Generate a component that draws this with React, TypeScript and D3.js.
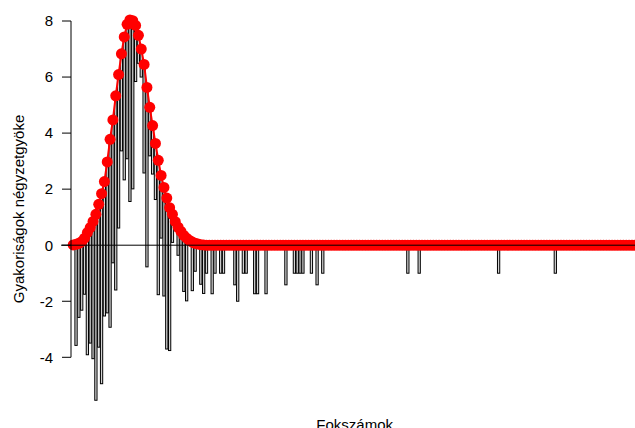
import React from "react";
import * as d3 from "d3";

// Degree range shown on the x axis (no x tick labels are drawn)
const maxDegree = 200;

// Square root of expected frequencies, degree 0..46 (beyond: 0)
const sqrtExpected = [
  0.01, 0.03, 0.07, 0.13, 0.25, 0.45, 0.63, 0.85, 1.1, 1.46,
  1.84, 2.27, 2.97, 3.78, 4.47, 5.33, 6.09, 6.83, 7.43, 7.88,
  8.04, 8.01, 7.84, 7.49, 7.0, 6.45, 5.63, 4.92, 4.27, 3.63,
  3.03, 2.49, 2.06, 1.68, 1.34, 1.1, 0.84, 0.64, 0.49, 0.35,
  0.25, 0.17, 0.11, 0.07, 0.04, 0.02, 0.01,
];

// Observed frequencies (degrees with non-zero counts)
const obsDegrees = [
  1, 2, 3, 4, 5, 6, 7, 8, 9, 10,
  11, 12, 13, 14, 15, 16, 17, 18, 19, 20,
  21, 22, 23, 24, 25, 26, 27, 28, 29, 30,
  31, 32, 33, 34, 35, 37, 38, 39, 40, 42,
  43, 45, 46, 47, 49, 50, 52, 53, 57, 58,
  60, 61, 64, 65, 68, 75, 78, 79, 80, 81,
  84, 86, 88, 118, 122, 150, 170,
];
const obsCounts = [
  13, 7, 6, 4, 19, 17, 24, 44, 26, 46,
  23, 29, 45, 26, 48, 30, 12, 26, 23, 42,
  36, 4, 1, 1, 15, 41, 3, 3, 4, 23,
  5, 15, 29, 26, 1, 1, 2, 4, 5, 3,
  1, 2, 3, 1, 3, 1, 1, 1, 2, 4,
  1, 1, 3, 3, 3, 2, 1, 1, 1, 1,
  1, 2, 1, 1, 1, 1, 1,
];

const yTicks = [-4, -2, 0, 2, 4, 6, 8];
const yLabel = "Gyakoriságok négyzetgyöke";
const xLabel = "Fokszámok";

export default function App() {
  const W = 635;
  const H = 428;
  const unit = 2.836;
  const x = d3.scaleLinear().domain([0, maxDegree]).range([73.2, 73.2 + maxDegree * unit]);
  const y = d3.scaleLinear().domain([-4, 8]).range([357.3, 21]);
  const degrees = d3.range(0, maxDegree + 1);
  const expAt = (d: number) => (d < sqrtExpected.length ? sqrtExpected[d] : 0);
  const bw = 0.8 * (x(1) - x(0));

  const bars = obsDegrees.map((d, i) => {
    const top = expAt(d);
    const bottom = top - Math.sqrt(obsCounts[i]);
    return { d, top, bottom };
  });

  const line = d3
    .line<number>()
    .x((d) => x(d))
    .y((d) => y(expAt(d)));

  const font = "'Liberation Sans', Arial, sans-serif";
  const axisX = 71;

  return (
    <svg
      width={W}
      height={H}
      style={{ position: "fixed", left: 0, top: 0, background: "#fff" }}
      fontFamily={font}
    >
      <g>
        {bars.map((b) => (
          <rect
            key={b.d}
            x={x(b.d) - bw / 2}
            y={y(b.top)}
            width={bw}
            height={y(b.bottom) - y(b.top)}
            fill="#d3d3d3"
            stroke="#000"
            strokeWidth={1}
          />
        ))}
      </g>
      <path d={line(degrees) || ""} fill="none" stroke="#ff0000" strokeWidth={2} />
      <g>
        {degrees.map((d) => (
          <circle key={d} cx={x(d)} cy={y(expAt(d))} r={5.5} fill="#ff0000" />
        ))}
      </g>
      <line x1={61} x2={W} y1={y(0)} y2={y(0)} stroke="#000" strokeWidth={1} />
      {/* y axis */}
      <line x1={axisX} x2={axisX} y1={y(-4)} y2={y(8)} stroke="#000" strokeWidth={1} />
      {yTicks.map((t) => (
        <g key={t}>
          <line x1={axisX - 9} x2={axisX} y1={y(t)} y2={y(t)} stroke="#000" strokeWidth={1} />
          <text x={53} y={y(t) + 5.3} textAnchor="end" fontSize={15} fill="#000">
            {t}
          </text>
        </g>
      ))}
      <text
        transform={`translate(24,${209}) rotate(-90)`}
        textAnchor="middle"
        fontSize={15}
        fill="#000"
      >
        {yLabel}
      </text>
      <text x={354.7} y={430} textAnchor="middle" fontSize={15} fill="#000">
        {xLabel}
      </text>
    </svg>
  );
}
